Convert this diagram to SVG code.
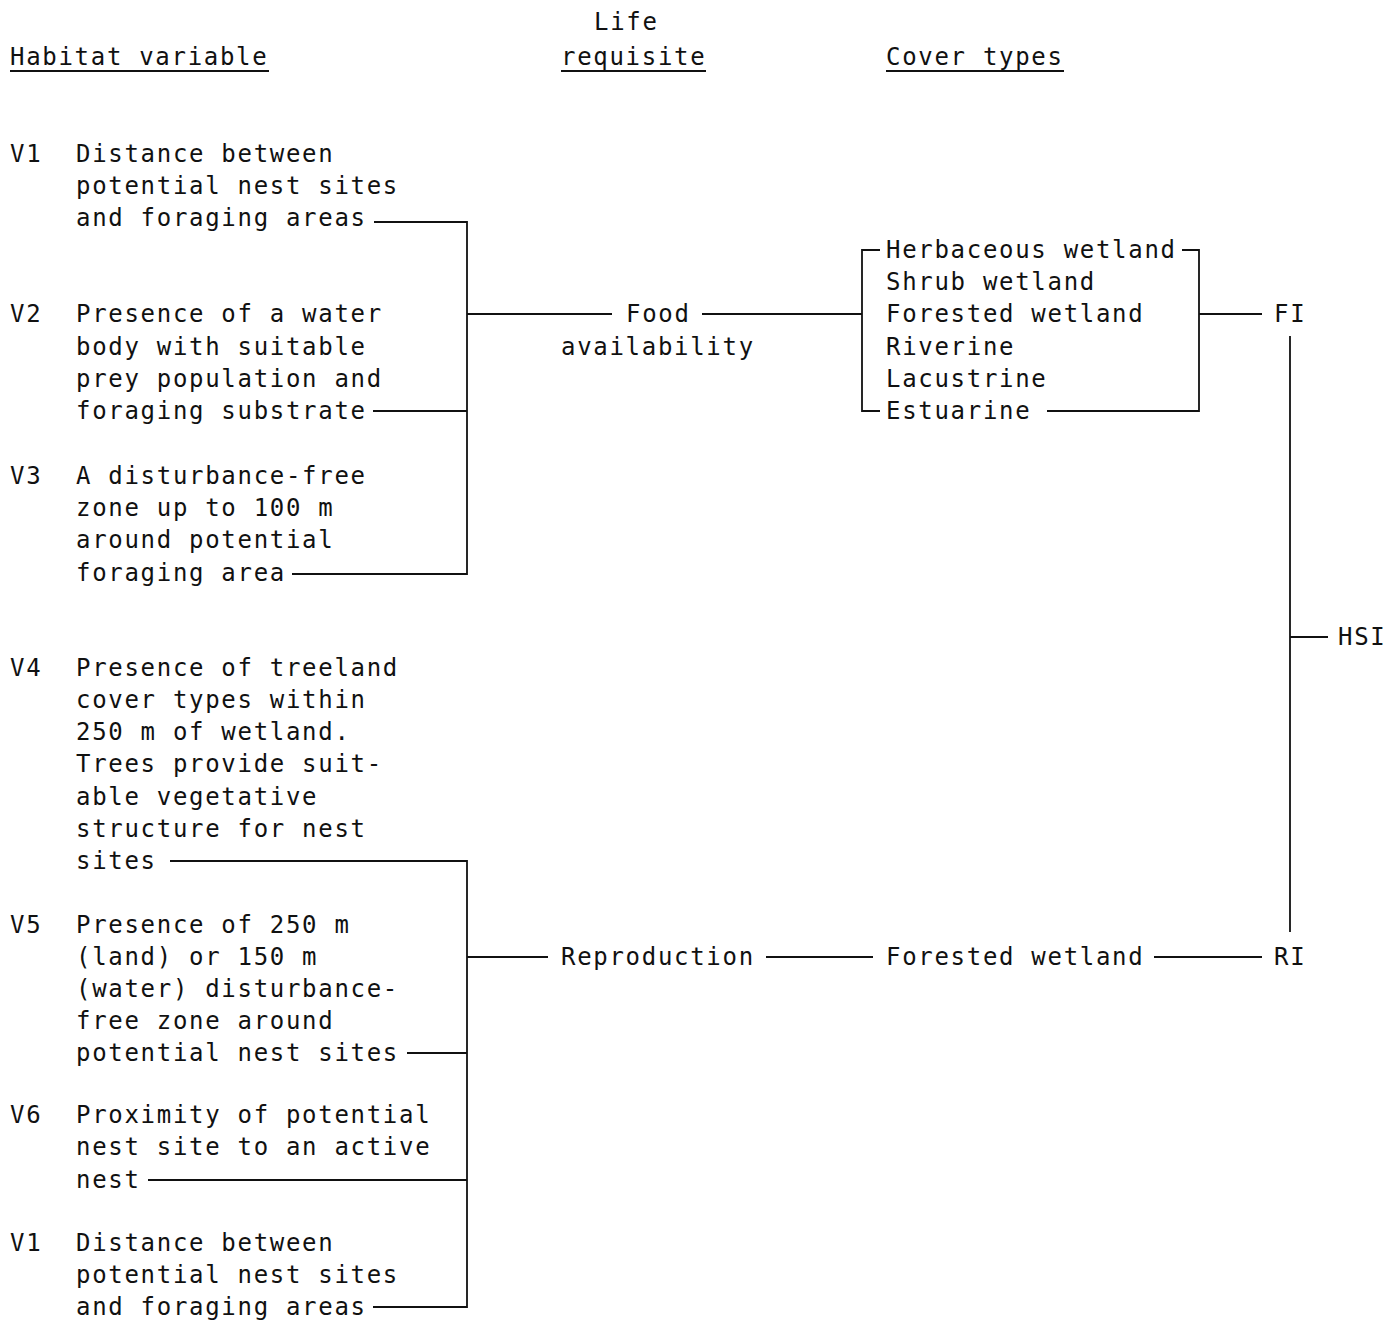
<svg xmlns="http://www.w3.org/2000/svg" width="1397" height="1320" viewBox="0 0 1397 1320">
<style>
text{font-family:"DejaVu Sans Mono","Liberation Mono",monospace;font-size:24px;letter-spacing:1.7px;fill:#111}
.c line,.c path,.u line{stroke:#111;stroke-width:1.8;fill:none}
</style>
<rect width="1397" height="1320" fill="#fff"/>
<g id="headers">
<text x="594" y="30">Life</text>
<text x="561" y="65">requisite</text>
<text x="10" y="65">Habitat variable</text>
<text x="886" y="65">Cover types</text>
<g class="u"><line x1="10" y1="71" x2="269" y2="71"/><line x1="561" y1="71" x2="706" y2="71"/><line x1="886" y1="71" x2="1064" y2="71"/></g>
</g>
<g id="v1a"><text x="10" y="162">V1</text><text x="76" y="162">Distance between</text><text x="76" y="194">potential nest sites</text><text x="76" y="226">and foraging areas</text></g>
<g id="v2"><text x="10" y="322">V2</text><text x="76" y="322">Presence of a water</text><text x="76" y="355">body with suitable</text><text x="76" y="387">prey population and</text><text x="76" y="419">foraging substrate</text></g>
<g id="v3"><text x="10" y="484">V3</text><text x="76" y="484">A disturbance-free</text><text x="76" y="516">zone up to 100 m</text><text x="76" y="548">around potential</text><text x="76" y="581">foraging area</text></g>
<g id="v4"><text x="10" y="676">V4</text><text x="76" y="676">Presence of treeland</text><text x="76" y="708">cover types within</text><text x="76" y="740">250 m of wetland.</text><text x="76" y="772">Trees provide suit-</text><text x="76" y="805">able vegetative</text><text x="76" y="837">structure for nest</text><text x="76" y="869">sites</text></g>
<g id="v5"><text x="10" y="933">V5</text><text x="76" y="933">Presence of 250 m</text><text x="76" y="965">(land) or 150 m</text><text x="76" y="997">(water) disturbance-</text><text x="76" y="1029">free zone around</text><text x="76" y="1061">potential nest sites</text></g>
<g id="v6"><text x="10" y="1123">V6</text><text x="76" y="1123">Proximity of potential</text><text x="76" y="1155">nest site to an active</text><text x="76" y="1188">nest</text></g>
<g id="v1b"><text x="10" y="1251">V1</text><text x="76" y="1251">Distance between</text><text x="76" y="1283">potential nest sites</text><text x="76" y="1315">and foraging areas</text></g>
<g id="food"><text x="626" y="322">Food</text><text x="561" y="355">availability</text></g>
<g id="reproduction"><text x="561" y="965">Reproduction</text></g>
<g id="cover-food"><text x="886" y="258">Herbaceous wetland</text><text x="886" y="290">Shrub wetland</text><text x="886" y="322">Forested wetland</text><text x="886" y="355">Riverine</text><text x="886" y="387">Lacustrine</text><text x="886" y="419">Estuarine</text></g>
<g id="cover-repro"><text x="886" y="965">Forested wetland</text></g>
<g id="fi"><text x="1274" y="322">FI</text></g>
<g id="ri"><text x="1274" y="965">RI</text></g>
<g id="hsi"><text x="1338" y="645">HSI</text></g>
<g id="connectors" class="c">
<path d="M374 222H467V574H292M373 411H467M467 314H612"/>
<path d="M702 314H862"/>
<path d="M880 250H862V411H880"/>
<path d="M1182 250H1199V411H1047M1199 314H1262"/>
<path d="M1290 336V932M1290 637H1328"/>
<path d="M170 861H467V1307H373M407 1053H467M148 1180H467M467 957H548"/>
<path d="M766 957H873M1154 957H1262"/>
</g>
</svg>
